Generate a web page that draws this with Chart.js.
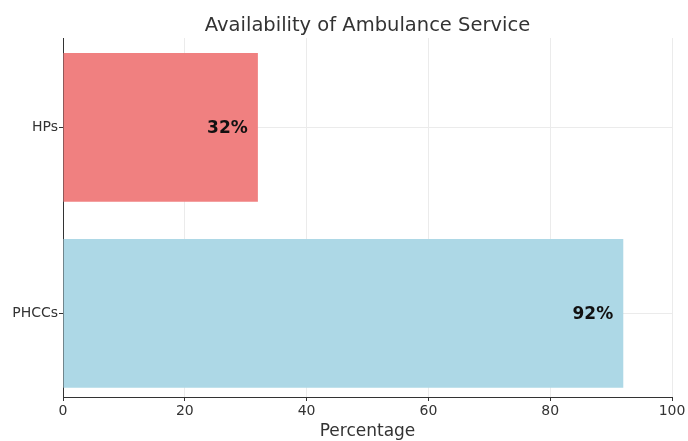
<!DOCTYPE html>
<html>
<head>
<meta charset="utf-8">
<script src="https://cdn.jsdelivr.net/npm/chart.js@4"></script>
<style>
  html, body { margin: 0; padding: 0; background: #fff; }
  #wrap { width: 688px; height: 441px; }
</style>
</head>
<body>
<div id="wrap"><canvas id="chart" width="688" height="441"></canvas></div>
<script>
// Facility types, bottom to top
const categories = ['PHCCs', 'HPs'];
// Share of facilities with an ambulance service (%)
const availability = [92, 32];
const barColors = ['#ADD8E6', '#F08080'];
const xTicks = [0, 20, 40, 60, 80, 100];
const chartTitle = 'Availability of Ambulance Service';

const FONT = "'DejaVu Sans', sans-serif";
const TEXT = '#333333';

// Percentage written inside each bar, a little before its end
const valueLabels = {
  id: 'valueLabels',
  afterDatasetsDraw(chart) {
    const { ctx, scales } = chart;
    ctx.save();
    ctx.font = `bold 17px ${FONT}`;
    ctx.fillStyle = '#111111';
    ctx.textAlign = 'center';
    ctx.textBaseline = 'middle';
    availability.forEach((v, i) => {
      const x = scales.x.getPixelForValue(v - 5);
      const y = scales.y.getPixelForValue(i);
      ctx.fillText(v + '%', x, y + 1);
    });
    ctx.restore();
  }
};

// Title centred over the plotting area
const plotTitle = {
  id: 'plotTitle',
  afterDraw(chart) {
    const { ctx, chartArea } = chart;
    ctx.save();
    ctx.font = `19.5px ${FONT}`;
    ctx.fillStyle = TEXT;
    ctx.textAlign = 'center';
    ctx.textBaseline = 'middle';
    ctx.fillText(chartTitle, (chartArea.left + chartArea.right) / 2, 26);
    ctx.restore();
  }
};

new Chart(document.getElementById('chart'), {
  type: 'bar',
  data: {
    datasets: [{
      data: availability.map((v, i) => ({ x: v, y: i })),
      backgroundColor: barColors,
      borderWidth: 0,
      barPercentage: 0.8,
      categoryPercentage: 1.0
    }]
  },
  options: {
    indexAxis: 'y',
    responsive: false,
    animation: false,
    layout: { padding: { left: 0, right: 16, top: 38, bottom: 0 } },
    plugins: {
      legend: { display: false },
      tooltip: { enabled: false },
      title: { display: false }
    },
    scales: {
      x: {
        type: 'linear',
        min: 0,
        max: 100,
        offset: false,
        afterBuildTicks(scale) { scale.ticks = xTicks.map(v => ({ value: v })); },
        afterFit(scale) { scale.height = 44; },
        grid: {
          offset: false,
          color: '#ebebeb',
          lineWidth: 1,
          drawTicks: true,
          tickLength: 4,
          tickColor: '#333333'
        },
        border: { display: true, color: '#333333', width: 1 },
        ticks: {
          color: TEXT,
          padding: 2,
          maxRotation: 0,
          font: { family: FONT, size: 14 }
        },
        title: {
          display: true,
          text: 'Percentage',
          color: TEXT,
          padding: { top: 0, bottom: -1 },
          font: { family: FONT, size: 17 }
        }
      },
      y: {
        type: 'linear',
        min: -0.45,
        max: 1.48,
        offset: false,
        afterBuildTicks(scale) { scale.ticks = categories.map((c, i) => ({ value: i })); },
        afterFit(scale) { scale.width = 63; },
        grid: {
          offset: false,
          color: '#ebebeb',
          lineWidth: 1,
          drawTicks: true,
          tickLength: 4,
          tickColor: '#333333'
        },
        border: { display: true, color: '#333333', width: 1 },
        ticks: {
          color: TEXT,
          padding: 1,
          font: { family: FONT, size: 14 },
          callback: (value) => categories[value] ?? ''
        }
      }
    }
  },
  plugins: [valueLabels, plotTitle]
});
</script>
</body>
</html>
